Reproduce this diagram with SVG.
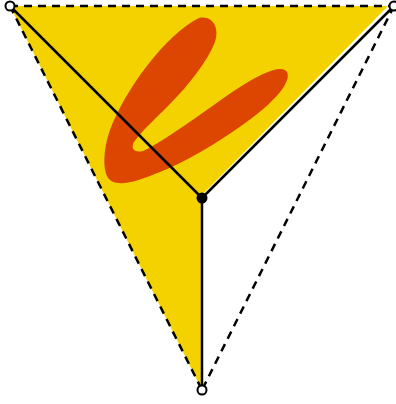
<svg xmlns="http://www.w3.org/2000/svg" width="396" height="404" viewBox="0 0 396 404">
  <style>
    .solid { stroke: #000; stroke-width: 2.5; fill: none; }
    .dash { stroke: #000; stroke-width: 2.5; fill: none; stroke-dasharray: 8 6; }
    .open { fill: #fff; stroke: #000; stroke-width: 2; }
    .dot { fill: #000; }
  </style>
  <rect width="396" height="404" fill="#fff"/>
  <g id="region">
    <polygon points="10,6 388,6 202,195 202,390" fill="#F3D200"/>
    <path d="M 199,18 C 212,15 220,27 215,42 C 207,62 188,86 168,106 C 155,119 140,133 134,142 C 130,149 135,153 143,151 C 170,138 205,110 240,87 C 262,73 282,64 287,72 C 291,80 280,95 262,110 C 235,132 195,158 160,172 C 140,180 120,188 110,180 C 102,173 103,150 110,130 C 125,90 165,35 199,18 Z" fill="#DC4600"/>
  </g>
  <g id="connectors">
    <line class="dash" x1="10" y1="6" x2="394" y2="6"/>
    <line class="dash" x1="10" y1="6" x2="202" y2="390"/>
    <line class="dash" x1="394" y1="6" x2="202" y2="390"/>
    <line class="solid" x1="10" y1="6" x2="202" y2="198"/>
    <line class="solid" x1="394" y1="6" x2="202" y2="198"/>
    <line class="solid" x1="202" y1="198" x2="202" y2="390"/>
  </g>
  <g id="node-top-left"><circle class="open" cx="10" cy="6" r="4.5"/></g>
  <g id="node-top-right"><circle class="open" cx="394" cy="6" r="4.5"/></g>
  <g id="node-bottom"><circle class="open" cx="202" cy="390" r="4.5"/></g>
  <g id="node-center"><circle class="dot" cx="202" cy="198" r="5.5"/></g>
</svg>
